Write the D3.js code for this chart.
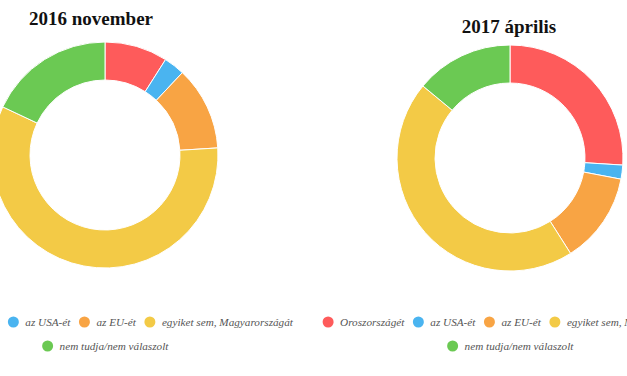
<!DOCTYPE html>
<html>
<head>
<meta charset="utf-8">
<script src="https://cdn.jsdelivr.net/npm/d3@7"></script>
<style>
    html, body { margin: 0; padding: 0; background: #fff; overflow: hidden; }
    .title { font-family: "Liberation Serif", serif; font-weight: bold; font-size: 19px; fill: #111; }
    .legend-label { font-family: "Liberation Serif", serif; font-style: italic; font-size: 11.2px; fill: #555; }
</style>
</head>
<body>
<div id="chart-area"></div>
<script>
const chartSize = { width: 627, height: 376 };

const categories = ["Oroszországét", "az USA-ét", "az EU-ét", "egyiket sem, Magyarországát", "nem tudja/nem válaszolt"];
const colors = ["#fe5b5b", "#4ab4f0", "#f8a444", "#f3ca46", "#6bc953"];
const titles = ["2016 november", "2017 április"];
const values2016 = [9, 3, 12, 58, 18];
const values2017 = [26, 2, 13, 45, 14];

const panels = [
    { title: titles[0], values: values2016, cx: 105, cy: 155, titleX: 91, titleY: 25 },
    { title: titles[1], values: values2017, cx: 510, cy: 158, titleX: 509, titleY: 33 }
];

const outerR = 113;
const innerR = 75;
const legendMaxWidth = 430;

const color = d3.scaleOrdinal().domain(categories).range(colors);

const svg = d3
    .select("#chart-area")
    .append("svg")
    .attr("width", chartSize.width)
    .attr("height", chartSize.height);

const pie = d3.pie().sort(null).value(d => d.value);
const arc = d3.arc().innerRadius(innerR).outerRadius(outerR);

const drawLegend = function(g, cx) {
    // measure labels first, then lay them out in centred rows
    const items = categories.map(name => {
        const t = g.append("text").attr("class", "legend-label").text(name);
        const w = t.node().getComputedTextLength();
        t.remove();
        return { name, w: 12 + w + 14 };
    });
    const rows = [[]];
    let rowW = 0;
    items.forEach(it => {
        if (rowW + it.w > legendMaxWidth && rows[rows.length - 1].length) {
            rows.push([]);
            rowW = 0;
        }
        rows[rows.length - 1].push(it);
        rowW += it.w;
    });
    rows.forEach((row, ri) => {
        const total = d3.sum(row, d => d.w) - 14 + 6;
        let x = cx - total / 2 + 6;
        const y = 322 + ri * 24;
        row.forEach(it => {
            g.append("circle")
                .attr("cx", x)
                .attr("cy", y)
                .attr("r", 5.5)
                .attr("fill", color(it.name));
            g.append("text")
                .attr("class", "legend-label")
                .attr("x", x + 12)
                .attr("y", y + 4)
                .text(it.name);
            x += it.w;
        });
    });
};

panels.forEach(p => {
    const g = svg.append("g");
    g.append("text")
        .attr("class", "title")
        .attr("x", p.titleX)
        .attr("y", p.titleY)
        .attr("text-anchor", "middle")
        .text(p.title);
    const data = categories.map((name, i) => ({ name, value: p.values[i] }));
    g.append("g")
        .attr("transform", `translate(${p.cx},${p.cy})`)
        .selectAll("path")
        .data(pie(data))
        .join("path")
        .attr("d", arc)
        .attr("fill", d => color(d.data.name))
        .attr("stroke", "#fff")
        .attr("stroke-width", 1);
    drawLegend(g, p.cx);
});
</script>
</body>
</html>
